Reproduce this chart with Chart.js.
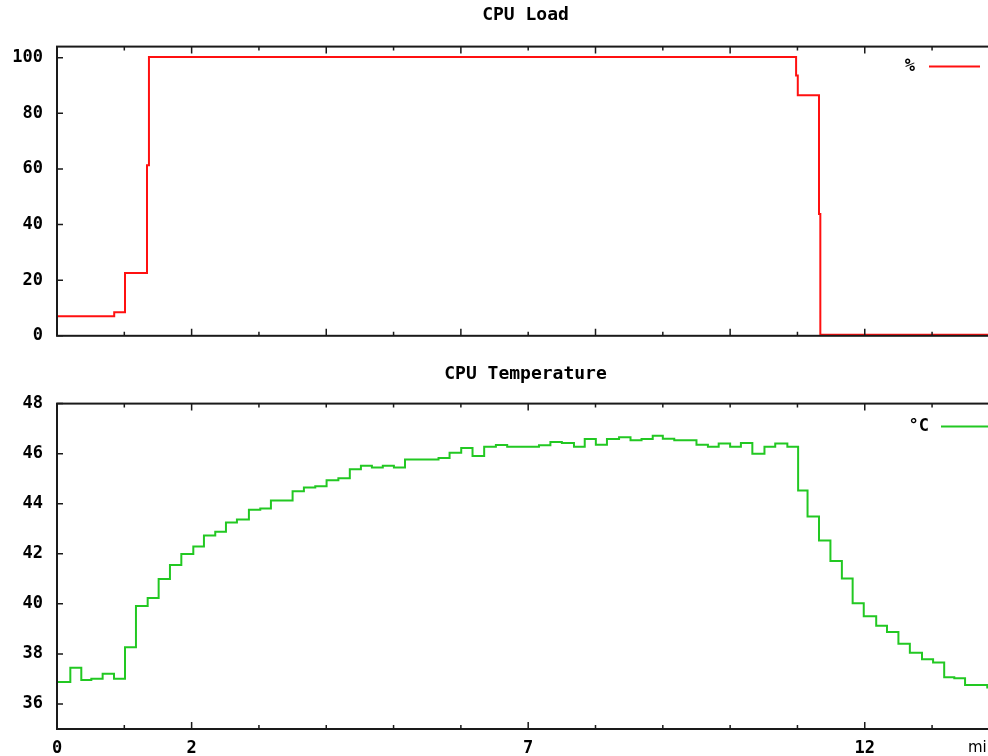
<!DOCTYPE html>
<html>
<head>
<meta charset="utf-8">
<script src="https://cdn.jsdelivr.net/npm/chart.js@4"></script>
<style>
  html, body { margin: 0; padding: 0; background: #fff; overflow: hidden; }
  #wrap { position: relative; width: 988px; height: 756px; overflow: hidden; }
  canvas { position: absolute; left: 0; }
  #load { top: 0; }
  #temp { top: 360px; }
</style>
</head>
<body>
<div id="wrap">
  <canvas id="load" width="1000" height="360"></canvas>
  <canvas id="temp" width="1000" height="396"></canvas>
</div>
<script>
// CPU load, step points (minutes, percent)
const loadMinutes = [0, 0.85, 1.01, 1.337, 1.366, 10.98, 11.005, 11.32, 11.34, 13.92];
const loadPercent = [7.0, 8.5, 22.6, 61.3, 100.3, 93.6, 86.5, 43.8, 0.4, 0.4];

// CPU temperature, step points (minutes, degrees C)
const tempMinutes = [0, 0.198, 0.361, 0.51, 0.678, 0.847, 1.01, 1.173, 1.347, 1.51,
  1.678, 1.847, 2.025, 2.183, 2.351, 2.51, 2.673, 2.851, 3.02, 3.178,
  3.5, 3.668, 3.837, 4.005, 4.18, 4.35, 4.515, 4.678, 4.84, 5.005,
  5.17, 5.668, 5.832, 6.005, 6.173, 6.346, 6.52, 6.688, 7.16, 7.33,
  7.5, 7.68, 7.84, 8.005, 8.17, 8.35, 8.52, 8.684, 8.85, 9.0,
  9.17, 9.5, 9.67, 9.83, 10.0, 10.16, 10.33, 10.51, 10.67, 10.85,
  11.01, 11.15, 11.32, 11.49, 11.66, 11.82, 11.985, 12.17, 12.33, 12.5,
  12.67, 12.85, 13.015, 13.18, 13.33, 13.49, 13.82, 13.92];
const tempC = [36.88, 37.45, 36.96, 37.01, 37.21, 37.01, 38.27, 39.91, 40.23, 40.99,
  41.55, 41.99, 42.29, 42.73, 42.88, 43.25, 43.37, 43.76, 43.81, 44.13,
  44.5, 44.65, 44.70, 44.94, 45.02, 45.38, 45.52, 45.45, 45.52, 45.45,
  45.77, 45.83, 46.04, 46.23, 45.91, 46.28, 46.35, 46.28, 46.34, 46.47,
  46.43, 46.28, 46.59, 46.36, 46.59, 46.66, 46.54, 46.59, 46.72, 46.60,
  46.54, 46.36, 46.28, 46.41, 46.28, 46.43, 46.0, 46.28, 46.41, 46.28,
  44.53, 43.49, 42.53, 41.71, 41.01, 40.02, 39.5, 39.12, 38.88, 38.41,
  38.05, 37.79, 37.66, 37.07, 37.03, 36.76, 36.66, 36.66];

// ticks
const xTickMinutes = [0, 1, 2, 3, 4, 5, 6, 7, 8, 9, 10, 11, 12, 13];
const xLabelMinutes = [0, 2, 7, 12];
const loadTicks = [0, 20, 40, 60, 80, 100];
const tempTicks = [36, 38, 40, 42, 44, 46, 48];

Chart.defaults.font.family = '"DejaVu Sans Mono", monospace';
Chart.defaults.font.weight = 'bold';
Chart.defaults.font.size = 17;
Chart.defaults.color = '#000';

// gnuplot-like box, inward ticks, key and x label
const framePlugin = {
  id: 'frame',
  afterDatasetsDraw(chart, args, opts) {
    const ctx = chart.ctx;
    const a = chart.chartArea;
    const x = chart.scales.x, y = chart.scales.y;
    ctx.save();
    ctx.strokeStyle = '#1a1a1a';
    ctx.lineWidth = 2;
    ctx.strokeRect(a.left, a.top, a.right - a.left, a.bottom - a.top);

    ctx.lineWidth = 1.5;
    ctx.beginPath();
    x.ticks.forEach(t => {
      const px = x.getPixelForValue(t.value);
      const len = opts.longX.includes(t.value) ? 7 : 4;
      ctx.moveTo(px, a.bottom); ctx.lineTo(px, a.bottom - len);
      ctx.moveTo(px, a.top); ctx.lineTo(px, a.top + len);
    });
    y.ticks.forEach(t => {
      const py = y.getPixelForValue(t.value);
      ctx.moveTo(a.left, py); ctx.lineTo(a.left + 6, py);
      ctx.moveTo(a.right, py); ctx.lineTo(a.right - 6, py);
    });
    ctx.stroke();

    // key: text then sample line
    const ds = chart.data.datasets[0];
    const sx = a.right - opts.keyRight;
    const ky = a.top + opts.keyDy;
    ctx.font = 'bold 17px "DejaVu Sans Mono", monospace';
    ctx.fillStyle = '#000';
    ctx.textAlign = 'right';
    ctx.textBaseline = 'middle';
    ctx.fillText(ds.label, sx - opts.keyGap, ky);
    ctx.strokeStyle = ds.borderColor;
    ctx.lineWidth = 2;
    ctx.beginPath();
    ctx.moveTo(sx, ky);
    ctx.lineTo(sx + 51, ky);
    ctx.stroke();

    if (opts.xTitle) {
      ctx.font = '15px "DejaVu Sans", sans-serif';
      ctx.textAlign = 'left';
      ctx.fillText(opts.xTitle, a.right - 26, a.bottom + 19);
    }
    ctx.restore();
  }
};

function makeChart(id, cfg) {
  const points = cfg.xs.map((t, i) => ({x: t, y: cfg.ys[i]}));
  return new Chart(document.getElementById(id), {
    type: 'line',
    data: {
      datasets: [{
        label: cfg.label,
        data: points,
        stepped: true,
        borderColor: cfg.color,
        borderWidth: 2,
        pointRadius: 0,
        fill: false
      }]
    },
    options: {
      responsive: false,
      animation: false,
      devicePixelRatio: 1,
      layout: {padding: {left: 0, right: 6, top: 0, bottom: 0}},
      scales: {
        x: {
          type: 'linear',
          min: 0,
          max: 13.92,
          afterBuildTicks: s => { s.ticks = xTickMinutes.map(v => ({value: v})); },
          afterFit: s => { s.height = cfg.xHeight; },
          grid: {display: false, drawTicks: false},
          border: {display: false},
          ticks: {
            display: cfg.showX,
            autoSkip: false,
            maxRotation: 0,
            padding: 9,
            callback: v => xLabelMinutes.includes(v) ? String(v) : ''
          }
        },
        y: {
          min: cfg.yMin,
          max: cfg.yMax,
          afterBuildTicks: s => { s.ticks = cfg.yTicks.map(v => ({value: v})); },
          afterFit: s => { s.width = 57; },
          grid: {display: false, drawTicks: false},
          border: {display: false},
          ticks: {padding: 14}
        }
      },
      plugins: {
        legend: {display: false},
        tooltip: {enabled: false},
        title: {
          display: true,
          fullSize: false,
          text: cfg.title,
          font: {size: 18, weight: 'bold'},
          padding: cfg.titlePad
        },
        frame: cfg.frame
      }
    },
    plugins: [framePlugin]
  });
}

makeChart('load', {
  title: 'CPU Load', label: '%', color: '#ff1010',
  xs: loadMinutes, ys: loadPercent,
  yMin: 0, yMax: 104, yTicks: loadTicks,
  showX: false, xHeight: 9,
  titlePad: {top: 5, bottom: 20},
  frame: {longX: [0, 2, 4, 6, 8, 10, 12], keyRight: 65, keyGap: 14, keyDy: 20}
});

makeChart('temp', {
  title: 'CPU Temperature', label: '°C', color: '#22c822',
  xs: tempMinutes, ys: tempC,
  yMin: 35, yMax: 48, yTicks: tempTicks,
  showX: true, xHeight: 27,
  titlePad: {top: 4, bottom: 18},
  frame: {longX: xLabelMinutes, keyRight: 53, keyGap: 12, keyDy: 23, xTitle: 'min'}
});
</script>
</body>
</html>
